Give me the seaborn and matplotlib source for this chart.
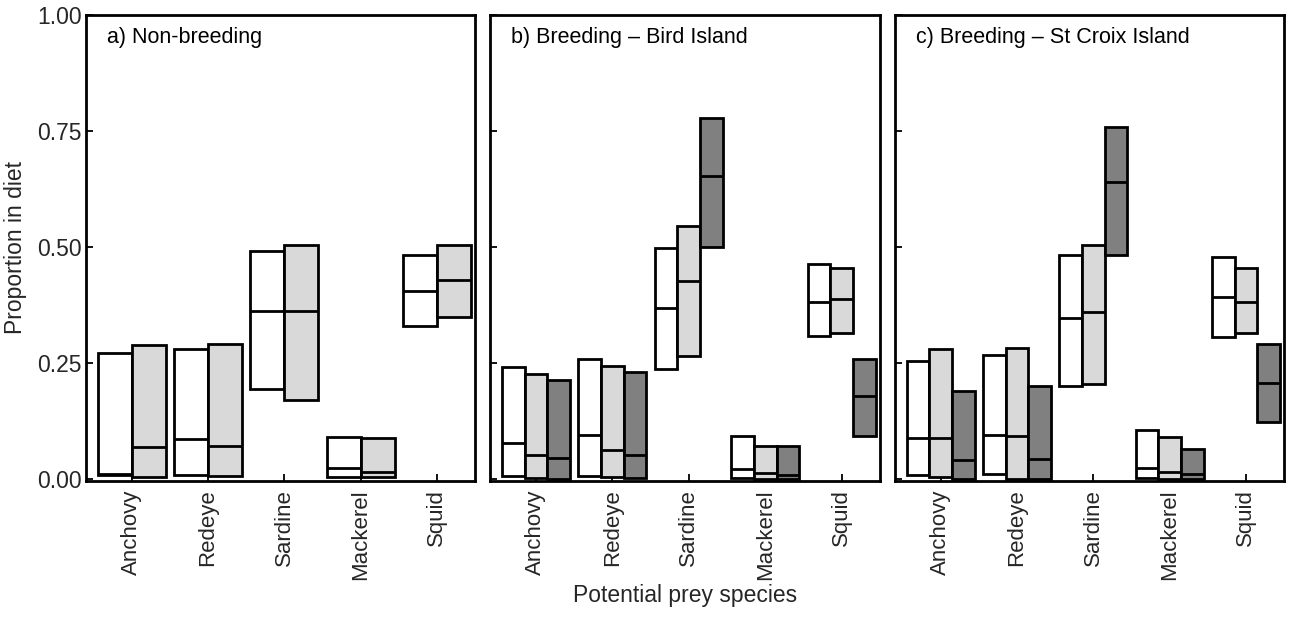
import matplotlib
matplotlib.use("Agg")
import matplotlib.pyplot as plt
import seaborn as sns
import pandas as pd

# ---------------- data ----------------
prey = ["Anchovy", "Redeye", "Sardine", "Mackerel", "Squid"]
groups = ["Source 1", "Source 2", "Source 3"]
colors = ["#ffffff", "#d9d9d9", "#808080"]
titles = ["a) Non-breeding", "b) Breeding \u2013 Bird Island", "c) Breeding \u2013 St Croix Island"]
yticks = [0.0, 0.25, 0.50, 0.75, 1.00]
ytick_labels = ["0.00", "0.25", "0.50", "0.75", "1.00"]

# a) Non-breeding (two sources)
nb_lower = [[0.008, 0.008, 0.193, 0.003, 0.330],
            [0.003, 0.006, 0.169, 0.003, 0.349]]
nb_median = [[0.010, 0.085, 0.361, 0.022, 0.405],
             [0.069, 0.070, 0.361, 0.015, 0.428]]
nb_upper = [[0.271, 0.280, 0.492, 0.090, 0.482],
            [0.289, 0.291, 0.505, 0.087, 0.505]]

# b) Breeding - Bird Island
bi_lower = [[0.005, 0.005, 0.236, 0.001, 0.307],
            [0.001, 0.004, 0.264, 0.000, 0.314],
            [0.000, 0.001, 0.500, 0.000, 0.092]]
bi_median = [[0.076, 0.095, 0.368, 0.020, 0.382],
             [0.051, 0.062, 0.427, 0.012, 0.387],
             [0.044, 0.051, 0.653, 0.008, 0.178]]
bi_upper = [[0.241, 0.259, 0.497, 0.093, 0.462],
            [0.226, 0.242, 0.546, 0.070, 0.455],
            [0.212, 0.230, 0.777, 0.071, 0.259]]

# c) Breeding - St Croix Island
sc_lower = [[0.007, 0.010, 0.200, 0.001, 0.306],
            [0.003, 0.000, 0.205, 0.000, 0.314],
            [0.000, 0.000, 0.482, 0.000, 0.123]]
sc_median = [[0.087, 0.094, 0.347, 0.022, 0.392],
             [0.087, 0.092, 0.359, 0.014, 0.382],
             [0.040, 0.042, 0.639, 0.010, 0.207]]
sc_upper = [[0.253, 0.267, 0.482, 0.105, 0.478],
            [0.280, 0.281, 0.505, 0.090, 0.455],
            [0.189, 0.199, 0.758, 0.063, 0.291]]

panels = [(nb_lower, nb_median, nb_upper),
          (bi_lower, bi_median, bi_upper),
          (sc_lower, sc_median, sc_upper)]

# ---------------- style ----------------
sns.set_theme(style="white")
plt.rcParams["font.family"] = ["Liberation Sans", "DejaVu Sans"]
FS_TITLE = 15.5
FS = 16.5
FS_XT = 16
LW = 2.0

fig = plt.figure(figsize=(12.9, 6.18), dpi=100)
W, H = 1290, 618
ax_px = [(86, 389), (490, 390), (895, 389)]
top_px, bot_px = 15, 481

for i, ((low, med, up), (lx, wd)) in enumerate(zip(panels, ax_px)):
    ax = fig.add_axes([lx / W, (H - bot_px) / H, wd / W, (bot_px - top_px) / H])
    n = len(low)
    rows = []
    for g in range(n):
        for k, p in enumerate(prey):
            rows.append({"prey": p, "group": groups[g], "lower": low[g][k],
                         "median": med[g][k], "upper": up[g][k]})
    df = pd.DataFrame(rows)
    sns.barplot(data=df, x="prey", y="upper", hue="group", order=prey,
                hue_order=groups[:n], palette=colors[:n], saturation=1,
                width=0.89, errorbar=None, edgecolor="black", linewidth=LW,
                legend=False, ax=ax)
    # turn bars into floating boxes (lower..upper) and add medians
    for g, cont in enumerate(ax.containers):
        sub = df[df["group"] == groups[g]].set_index("prey")
        for patch in cont.patches:
            k = int(round(patch.get_x() + patch.get_width() / 2))
            r = sub.loc[prey[k]]
            patch.set_y(r["lower"])
            patch.set_height(r["upper"] - r["lower"])
            ax.hlines(r["median"], patch.get_x(), patch.get_x() + patch.get_width(),
                      colors="black", linewidth=LW, zorder=patch.get_zorder() + 0.1)

    ax.set_xlim(-0.6, 4.5)
    ax.set_ylim(-0.005, 1.0)
    ax.set_yticks(yticks)
    if i == 0:
        ax.set_yticklabels(ytick_labels, fontsize=FS)
        ax.set_ylabel("Proportion in diet", fontsize=FS, labelpad=7)
    else:
        ax.set_yticklabels([])
        ax.set_ylabel("")
    ax.set_xticks(range(len(prey)))
    ax.set_xticklabels(prey, rotation=90, fontsize=FS_XT)
    ax.tick_params(axis="x", direction="in", length=5, width=1.3,
                   color="black", bottom=True, pad=6)
    ax.tick_params(axis="y", direction="in", length=5, width=1.3,
                   color="black", left=True, pad=3)
    if i == 1:
        ax.set_xlabel("Potential prey species", fontsize=FS, labelpad=3)
    else:
        ax.set_xlabel("")
    for s in ax.spines.values():
        s.set_visible(True)
        s.set_color("black")
        s.set_linewidth(2.0)
    ax.text(0.053, 0.951, titles[i], transform=ax.transAxes, fontsize=FS_TITLE,
            ha="left", va="center", color="black")

fig.savefig("out.png", dpi=100, facecolor="white")
